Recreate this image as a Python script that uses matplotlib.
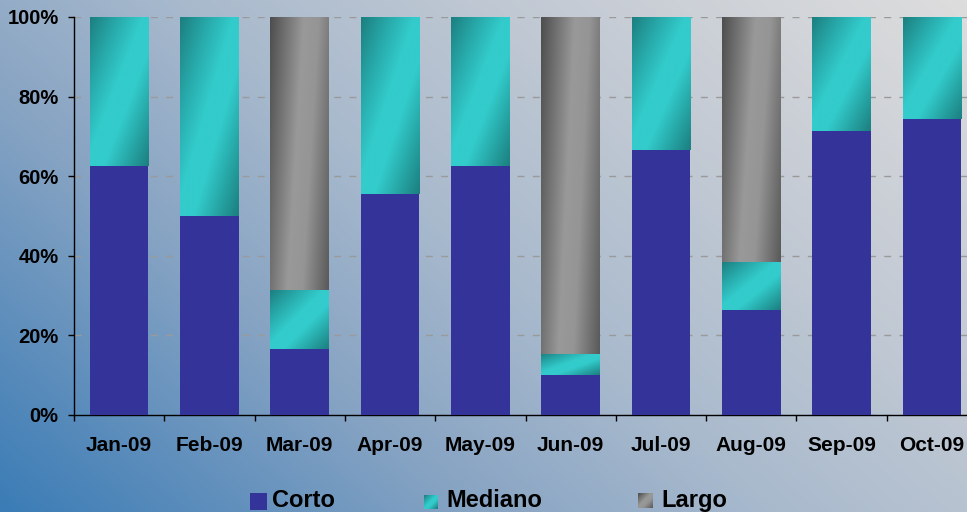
import numpy as np
import matplotlib
matplotlib.use("Agg")
import matplotlib.pyplot as plt
from matplotlib.colors import LinearSegmentedColormap

plt.rcParams["font.family"] = ["Liberation Sans", "DejaVu Sans"]
plt.rcParams["font.weight"] = "bold"

# ── Data (share of total, %) ─────────────────────────────────────────────────
months  = ["Jan-09", "Feb-09", "Mar-09", "Apr-09", "May-09",
           "Jun-09", "Jul-09", "Aug-09", "Sep-09", "Oct-09"]
corto   = [62.5, 50.0, 16.7, 55.6, 62.5, 10.0, 66.7, 26.4, 71.4, 74.4]
mediano = [37.5, 50.0, 14.6, 44.4, 37.5,  5.3, 33.3, 12.0, 28.6, 25.6]
largo   = [ 0.0,  0.0, 68.7,  0.0,  0.0, 84.7,  0.0, 61.6,  0.0,  0.0]
series  = ["Corto", "Mediano", "Largo"]

# ── Colours ──────────────────────────────────────────────────────────────────
CORTO = "#333399"
teal = LinearSegmentedColormap.from_list("teal", [
    (0.0, "#1c7f80"), (0.22, "#27a6a7"), (0.45, "#33cbcb"),
    (0.62, "#33cbcb"), (0.82, "#26a3a3"), (1.0, "#1c7f80")])
gray = LinearSegmentedColormap.from_list("gray", [
    (0.0, "#4e4e4e"), (0.45, "#999999"), (0.65, "#959595"), (1.0, "#5a5a5a")])
bg_cmap = LinearSegmentedColormap.from_list("bg", [
    (0.0, "#3b7cb6"), (0.3, "#86a3c3"), (0.5, "#a9bacd"),
    (0.75, "#c6ccd5"), (1.0, "#dddddd")])

W, H = 967, 512
fig = plt.figure(figsize=(W / 100, H / 100), dpi=100)

# background gradient
bg = fig.add_axes([0, 0, 1, 1], zorder=0)
xx, yy = np.meshgrid(np.linspace(0, 1, 400), np.linspace(0, 1, 220))
bg.imshow(0.62 * xx + 0.38 * yy, cmap=bg_cmap, vmin=0, vmax=1,
          origin="lower", extent=[0, 1, 0, 1], aspect="auto")
bg.axis("off")

ax = fig.add_axes([74 / W, 97 / H, 903 / W, 398 / H], zorder=1)
ax.patch.set_alpha(0)


def shade(ax, rect, cmap, wu, wv):
    """Fill a bar rectangle with a diagonal gradient image."""
    x0, y0 = rect.get_x(), rect.get_y()
    w, h = rect.get_width(), rect.get_height()
    if h <= 0:
        return
    u, v = np.meshgrid(np.linspace(0, 1, 80), np.linspace(0, 1, 80))
    ax.imshow(wu * u + wv * v, cmap=cmap, vmin=0, vmax=1,
              extent=(x0, x0 + w, y0, y0 + h), origin="upper",
              aspect="auto", interpolation="bilinear", zorder=3)


x = np.arange(len(months))
bw = 0.65
ax.bar(x, corto, bw, color=CORTO, zorder=3)
bars_m = ax.bar(x, mediano, bw, bottom=corto, color="none", zorder=3)
bars_l = ax.bar(x, largo, bw, bottom=np.add(corto, mediano), color="none", zorder=3)
for r in bars_m:
    shade(ax, r, teal, 0.5, 0.5)
for r in bars_l:
    shade(ax, r, gray, 0.78, 0.22)

ax.set_xlim(-0.5, len(months) - 0.5)
ax.set_ylim(0, 100)
ax.set_aspect("auto")

ax.set_axisbelow(True)
ax.yaxis.grid(True, color="#9a9a9a", lw=1, ls=(0, (5, 6)))
for s in ["top", "right"]:
    ax.spines[s].set_visible(False)
for s in ["left", "bottom"]:
    ax.spines[s].set_color("black")
    ax.spines[s].set_linewidth(1)

ax.set_yticks(range(0, 101, 20))
ax.set_yticklabels([f"{v}%" for v in range(0, 101, 20)])
ax.tick_params(axis="y", direction="out", length=4, width=1, pad=7,
               labelsize=14.5)
ax.set_xticks(x)
ax.set_xticklabels(months)
ax.set_xticks(np.arange(-0.5, len(months), 1), minor=True)
ax.tick_params(axis="x", which="major", length=0, pad=15, labelsize=15)
ax.tick_params(axis="x", which="minor", direction="out", length=4, width=1)

# ── Legend (drawn by hand at the bottom) ─────────────────────────────────────
leg_boxes = [(250, 493, 17, 17), (424, 495, 14, 14), (638, 493, 15, 15)]
leg_text_x = [272, 446, 661]
leg_fill = [None, teal, gray]
for name, (bx, by, bw_, bh), tx, cm in zip(series, leg_boxes, leg_text_x, leg_fill):
    sq = fig.add_axes([bx / W, (H - by - bh) / H, bw_ / W, bh / H], zorder=2)
    if cm is None:
        sq.imshow([[0]], cmap=LinearSegmentedColormap.from_list("c", [CORTO, CORTO]),
                  aspect="auto")
    else:
        u, v = np.meshgrid(np.linspace(0, 1, 20), np.linspace(0, 1, 20))
        sq.imshow(0.5 * u + 0.5 * v, cmap=cm, vmin=0, vmax=1, aspect="auto",
                  interpolation="bilinear")
    sq.axis("off")
    fig.text(tx / W, (H - 507) / H, name, fontsize=17, fontweight="bold",
             va="baseline", ha="left", zorder=3)

fig.savefig("out.png", dpi=100)
